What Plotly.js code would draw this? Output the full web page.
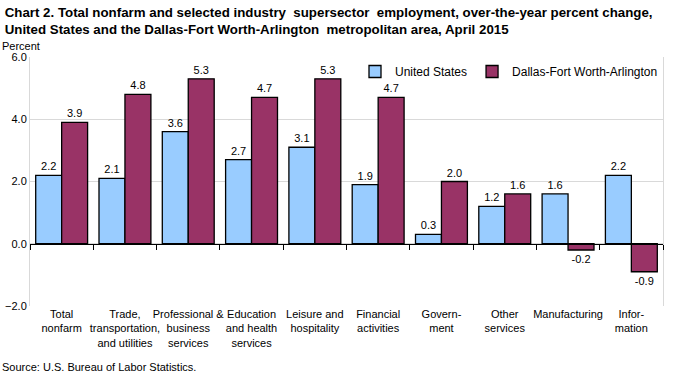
<!DOCTYPE html>
<html>
<head>
<meta charset="utf-8">
<script src="https://cdn.plot.ly/plotly-3.0.1.min.js"></script>
<style>html,body{margin:0;padding:0;background:#fff}#chart{width:673px;height:376px}</style>
</head>
<body>
<div id="chart"></div>
<script>
const categories = ["Total<br>nonfarm", "Trade,<br>transportation,<br>and utilities", "Professional &<br>business<br>services", "Education<br>and health<br>services", "Leisure and<br>hospitality", "Financial<br>activities", "Govern-<br>ment", "Other<br>services", "Manufacturing", "Infor-<br>mation"];
const usValues = [2.2, 2.1, 3.6, 2.7, 3.1, 1.9, 0.3, 1.2, 1.6, 2.2];
const dfwValues = [3.9, 4.8, 5.3, 4.7, 5.3, 4.7, 2.0, 1.6, -0.2, -0.9];
const seriesNames = ["United States", "Dallas-Fort Worth-Arlington"];
const yTicks = [-2, 0, 2, 4, 6];
const boundaryTicks = [-0.5, 0.5, 1.5, 2.5, 3.5, 4.5, 5.5, 6.5, 7.5, 8.5, 9.5];

const font = "Liberation Sans, Arial, sans-serif";
const labelFont = {family: font, size: 11, color: "#000"};

const traces = [
  {type: "bar", name: seriesNames[0], x: categories, y: usValues,
   marker: {color: "#99CCFF", line: {color: "#000", width: 1.3}},
   text: usValues.map(v => v.toFixed(1)), textposition: "outside", cliponaxis: false,
   textfont: labelFont, hoverinfo: "skip"},
  {type: "bar", name: seriesNames[1], x: categories, y: dfwValues,
   marker: {color: "#993366", line: {color: "#000", width: 1.3}},
   text: dfwValues.map(v => v.toFixed(1)), textposition: "outside", cliponaxis: false,
   textfont: labelFont, hoverinfo: "skip"},
  {type: "scatter", x: [], y: [], xaxis: "x2", showlegend: false, hoverinfo: "skip"}
];

const layout = {
  width: 673, height: 376,
  margin: {l: 30, r: 10, t: 57, b: 70},
  paper_bgcolor: "#fff", plot_bgcolor: "#fff",
  font: {family: font, size: 11, color: "#000"},
  title: {text: "<b>Chart 2. Total nonfarm and selected industry  supersector  employment, over-the-year percent change,<br>United States and the Dallas-Fort Worth-Arlington  metropolitan area, April 2015</b>",
          x: 0.007, xanchor: "left", xref: "container", y: 0.955, yanchor: "top", yref: "container",
          font: {family: font, size: 13.3, color: "#000"}},
  barmode: "group", bargap: 0.18, bargroupgap: 0,
  showlegend: true,
  legend: {orientation: "h", x: 1.0, xanchor: "right", y: 1.0, yanchor: "top",
           font: {family: font, size: 12, color: "#000"}, bgcolor: "rgba(0,0,0,0)",
           itemwidth: 30, tracegroupgap: 0},
  xaxis: {type: "category", showline: false, ticks: "", showgrid: false, zeroline: false,
          tickangle: 0, automargin: false,
          tickfont: {family: font, size: 11, color: "#000"}, fixedrange: true},
  xaxis2: {overlaying: "x", type: "linear", range: [-0.5, 9.5], anchor: "free", position: 0.25,
           showline: true, linecolor: "#000", linewidth: 1.5, ticks: "outside", ticklen: 5,
           tickcolor: "#000", tickwidth: 1, tickvals: boundaryTicks, showticklabels: false,
           showgrid: false, zeroline: false},
  yaxis: {range: [-2, 6], tickvals: yTicks, tickformat: ".1f", showgrid: true, gridcolor: "#d9d9d9",
          gridwidth: 1, zeroline: false, showline: true, linecolor: "#d9d9d9", mirror: true,
          ticks: "", tickfont: {family: font, size: 11, color: "#000"}},
  annotations: [
    {text: "Percent", xref: "paper", yref: "paper", x: -0.047, xanchor: "left", y: 1.0, yanchor: "bottom",
     yshift: 3, showarrow: false, font: {family: font, size: 11, color: "#000"}},
    {text: "Source: U.S. Bureau of Labor Statistics.", xref: "paper", yref: "paper",
     x: -0.047, xanchor: "left", y: -0.245, yanchor: "middle", showarrow: false,
     font: {family: font, size: 11, color: "#000"}}
  ]
};

Plotly.newPlot("chart", traces, layout, {displayModeBar: false, staticPlot: true});
</script>
</body>
</html>
